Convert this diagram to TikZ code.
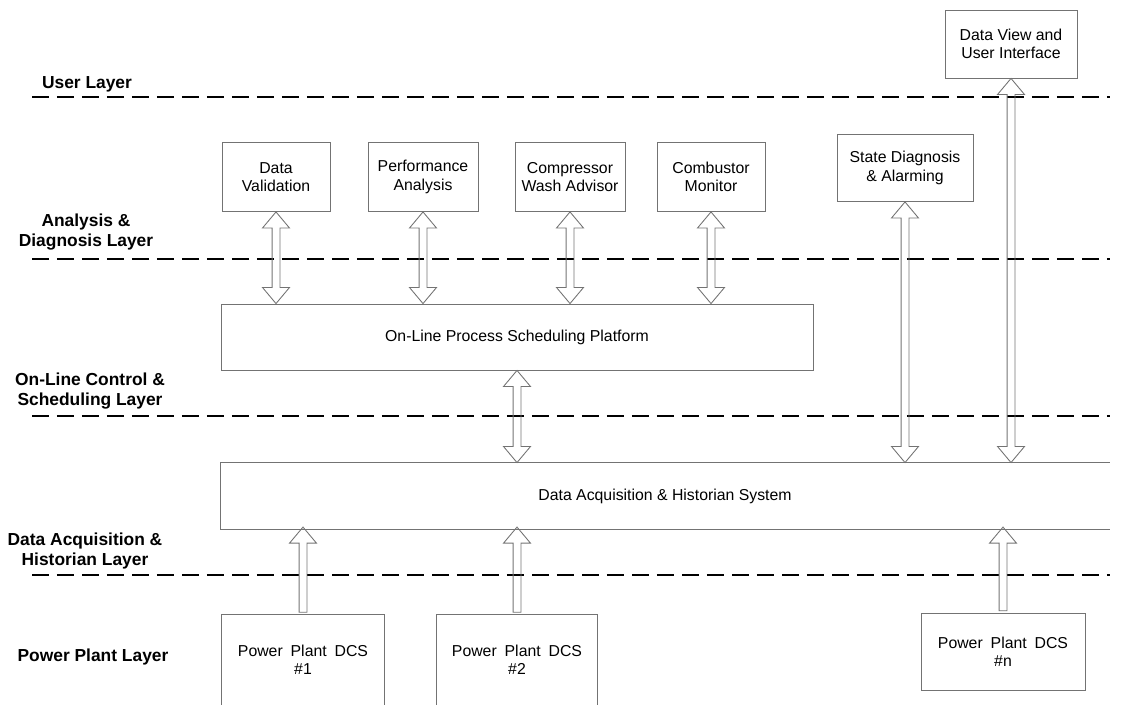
\documentclass[tikz,border=0pt]{standalone}
\usepackage{fontspec}
\setmainfont{Liberation Sans}
\usetikzlibrary{shapes.arrows,calc}

\newcommand{\linkboth}[2]{\path let \p1=(#1), \p2=(#2), \n1={abs(\y2-\y1)} in
  node[twoway,minimum height=\n1] at ($(\p1)!.5!(\p2)$) {};}
\newcommand{\linkup}[2]{\path let \p1=(#1), \p2=(#2), \n1={abs(\y2-\y1)} in
  node[oneway,minimum height=\n1] at ($(\p1)!.5!(\p2)$) {};}

\begin{document}
\begin{tikzpicture}[x=0.02cm,y=-0.02cm,
  layer/.style={black,line width=1.1pt,dash pattern=on 0.34cm off 0.16cm},
  layertext/.style={font=\bfseries\fontsize{9.9}{11.4}\selectfont,align=center},
  unit/.style={draw=black!55,line width=0.5pt,font=\fontsize{9}{10.5}\selectfont,align=center},
  twoway/.style={double arrow,draw=black!55,line width=0.5pt,rotate=90,inner xsep=0pt,inner ysep=0.07cm,
    double arrow head extend=0.19cm,double arrow tip angle=80},
  oneway/.style={single arrow,draw=black!55,line width=0.5pt,rotate=90,inner xsep=0pt,inner ysep=0.07cm,
    single arrow head extend=0.19cm,single arrow tip angle=80}]
\useasboundingbox (0,0) rectangle (1125,705);

\foreach \y in {97,259,416,575}
  \draw[layer] (32,\y) -- (1110,\y);

\node[layertext] (luser) at (87,84) {User Layer};
\node[layertext] (lana) at (86,232) {Analysis \&\\Diagnosis Layer};
\node[layertext] (lctl) at (90,391) {On-Line Control \&\\Scheduling Layer};
\node[layertext] (lacq) at (85,551) {Data Acquisition \&\\Historian Layer};
\node[layertext] (lplant) at (93,657) {Power Plant Layer};

\node[unit,minimum width=2.64cm,minimum height=1.36cm] (dview) at (1011,44) {Data View and\\User Interface};
\node[unit,minimum width=2.16cm,minimum height=1.38cm] (dval) at (276,177) {Data\\Validation};
\node[unit,minimum width=2.2cm,minimum height=1.38cm] (perf) at (423,177) {Performance\\Analysis};
\node[unit,minimum width=2.2cm,minimum height=1.38cm] (comp) at (570,177) {Compressor\\Wash Advisor};
\node[unit,minimum width=2.16cm,minimum height=1.38cm] (comb) at (711,177) {Combustor\\Monitor};
\node[unit,minimum width=2.72cm,minimum height=1.34cm] (sdiag) at (905,168) {State Diagnosis\\\& Alarming};
\node[unit,minimum width=11.84cm,minimum height=1.32cm] (plat) at (517,337) {On-Line Process Scheduling Platform};
\node[unit,draw=none,minimum width=17.78cm,minimum height=1.32cm] (daq) at (665,496) {Data Acquisition \& Historian System};
\draw[black!55,line width=0.5pt] (daq.north east) -- (daq.north west) -- (daq.south west) -- (daq.south east);

\node[unit,draw=none,minimum width=3.24cm,minimum height=1.8cm] (dcs1) at (303,660) {Power\enspace Plant\enspace DCS\\\#1};
\node[unit,draw=none,minimum width=3.22cm,minimum height=1.8cm] (dcs2) at (517,660) {Power\enspace Plant\enspace DCS\\\#2};
\draw[black!55,line width=0.5pt] (dcs1.south west) -- (dcs1.north west) -- (dcs1.north east) -- (dcs1.south east);
\draw[black!55,line width=0.5pt] (dcs2.south west) -- (dcs2.north west) -- (dcs2.north east) -- (dcs2.south east);
\node[unit,minimum width=3.28cm,minimum height=1.54cm] (dcsn) at (1003,652) {Power\enspace Plant\enspace DCS\\\#n};

\linkboth{dval.south}{dval.south |- plat.north}
\linkboth{perf.south}{perf.south |- plat.north}
\linkboth{comp.south}{comp.south |- plat.north}
\linkboth{comb.south}{comb.south |- plat.north}
\linkboth{plat.south}{plat.south |- daq.north}
\linkboth{sdiag.south}{sdiag.south |- daq.north}
\linkboth{dview.south}{dview.south |- daq.north}
\linkup{dcs1.north}{dcs1.north |- daq.south}
\linkup{dcs2.north}{dcs2.north |- daq.south}
\linkup{dcsn.north}{dcsn.north |- daq.south}
\end{tikzpicture}
\end{document}
